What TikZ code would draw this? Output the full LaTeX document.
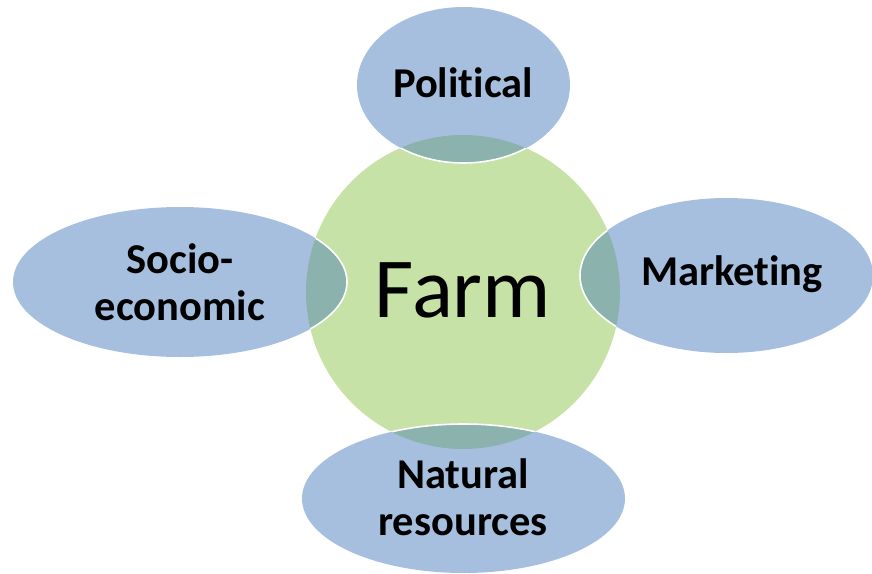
\documentclass[tikz,border=0pt]{standalone}
\usepackage{fontspec}
\setmainfont{Carlito}[Ligatures=NoCommon]
\definecolor{bluefill}{RGB}{167,191,222}
\definecolor{greenfill}{RGB}{199,226,166}
\definecolor{overlapfill}{RGB}{139,178,173}
\tikzset{
  lbl/.style={font=\fontsize{42.5}{47}\selectfont\bfseries, align=center, text=black},
  bigl/.style={font=\fontsize{85.5}{90}\selectfont, text=black},
  rim/.style={draw=white, line width=1.6pt},
}
\begin{document}
\begin{tikzpicture}[x=1pt,y=-1pt]
\useasboundingbox (0,0) rectangle (872,573);
\coordinate (cF) at (463,292);
\coordinate (cP) at (463.5,85);
\coordinate (cM) at (726.5,275.5);
\coordinate (cS) at (180,282);
\coordinate (cN) at (463.5,498.5);
\fill[greenfill] (cF) circle (157pt);
\fill[bluefill] (cP) ellipse [x radius=106.5pt, y radius=78pt];
\fill[bluefill] (cM) ellipse [x radius=146.5pt, y radius=77.5pt];
\fill[bluefill] (cS) ellipse [x radius=167pt, y radius=75pt];
\fill[bluefill] (cN) ellipse [x radius=161.5pt, y radius=74.5pt];
\begin{scope}
\clip (cF) circle (157pt);
\fill[overlapfill] (cP) ellipse [x radius=106.5pt, y radius=78pt];
\fill[overlapfill] (cM) ellipse [x radius=146.5pt, y radius=77.5pt];
\fill[overlapfill] (cS) ellipse [x radius=167pt, y radius=75pt];
\fill[overlapfill] (cN) ellipse [x radius=161.5pt, y radius=74.5pt];
\draw[rim] (cP) ellipse [x radius=106.5pt, y radius=78pt];
\draw[rim] (cM) ellipse [x radius=146.5pt, y radius=77.5pt];
\draw[rim] (cS) ellipse [x radius=167pt, y radius=75pt];
\draw[rim] (cN) ellipse [x radius=161.5pt, y radius=74.5pt];
\end{scope}
\node[bigl] (farm) at (463,290) {Farm};
\node[lbl] (political) at (463,83) {Political};
\node[lbl] (marketing) at (732,274) {Marketing};
\node[lbl] (socio) at (180,282) {Socio-\\economic};
\node[lbl] (natural) at (463,497) {Natural\\resources};
\end{tikzpicture}
\end{document}
